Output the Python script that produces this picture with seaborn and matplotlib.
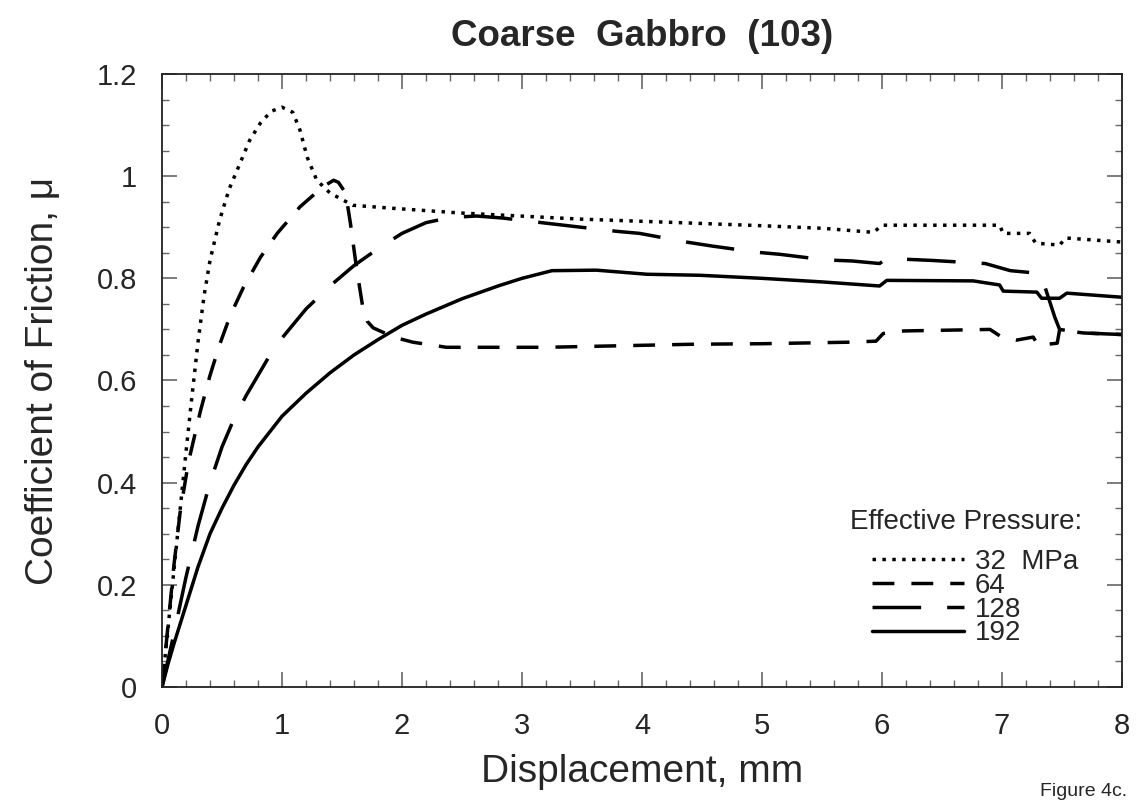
import numpy as np
import pandas as pd
import matplotlib
matplotlib.use("Agg")
import matplotlib.pyplot as plt
import seaborn as sns
from matplotlib.ticker import MultipleLocator, FuncFormatter

# ---- data ----
d32 = [0, 0.05, 0.10, 0.15, 0.20, 0.25, 0.30, 0.35, 0.40, 0.48, 0.56, 0.65, 0.73, 0.82,
       0.91, 1.0, 1.09, 1.15, 1.21, 1.29, 1.40, 1.59, 1.93, 2.48, 2.65, 3.48, 4.43, 5.0,
       5.5, 5.93, 6.0, 6.98, 7.01, 7.23, 7.28, 7.48, 7.53, 8.0]
mu32 = [0, 0.115, 0.23, 0.345, 0.46, 0.57, 0.675, 0.765, 0.835, 0.914, 0.975, 1.025, 1.07, 1.104,
        1.127, 1.135, 1.125, 1.09, 1.037, 0.992, 0.967, 0.943, 0.937, 0.928, 0.926, 0.916, 0.908, 0.903,
        0.898, 0.890, 0.904, 0.904, 0.888, 0.888, 0.869, 0.865, 0.879, 0.871]

d64 = [0, 0.05, 0.10, 0.15, 0.22, 0.32, 0.40, 0.48, 0.57, 0.68, 0.82, 0.96, 1.15, 1.34, 1.43,
       1.47, 1.53, 1.57, 1.62, 1.67, 1.71, 1.76, 1.93, 2.09, 2.37, 3.2, 4.43, 5.0, 5.73, 5.95,
       6.01, 6.18, 6.9, 7.01, 7.12, 7.26, 7.30, 7.46, 7.48, 7.68, 8.0]
mu64 = [0, 0.12, 0.24, 0.34, 0.44, 0.54, 0.61, 0.67, 0.728, 0.783, 0.841, 0.888, 0.94, 0.979, 0.992,
        0.988, 0.967, 0.908, 0.822, 0.748, 0.716, 0.703, 0.685, 0.675, 0.665, 0.665, 0.671, 0.672, 0.675, 0.677,
        0.692, 0.697, 0.70, 0.683, 0.679, 0.685, 0.669, 0.673, 0.699, 0.693, 0.69]

d128 = [0, 0.1, 0.2, 0.3, 0.4, 0.5, 0.6, 0.7, 0.8, 0.9, 1.0, 1.2, 1.4, 1.6, 1.8, 2.0, 2.2,
        2.4, 2.62, 2.84, 3.2, 3.42, 3.79, 3.98, 4.37, 4.59, 4.96, 5.15, 5.53, 5.75, 5.98,
        6.04, 6.42, 6.86, 7.07, 7.30, 7.34, 7.44, 7.48, 7.68, 8.0]
mu128 = [0, 0.105, 0.215, 0.315, 0.40, 0.47, 0.525, 0.57, 0.61, 0.65, 0.683, 0.74, 0.785, 0.825, 0.858,
         0.888, 0.909, 0.919, 0.922, 0.918, 0.908, 0.902, 0.892, 0.888, 0.871, 0.863, 0.851, 0.847, 0.836, 0.834,
         0.829, 0.839, 0.835, 0.829, 0.815, 0.81, 0.796, 0.724, 0.70, 0.693, 0.69]

d192 = [0, 0.05, 0.1, 0.2, 0.3, 0.4, 0.5, 0.6, 0.7, 0.8, 0.9, 1.0, 1.2, 1.4, 1.6, 1.8, 2.0,
        2.2, 2.5, 2.8, 3.0, 3.25, 3.62, 4.04, 4.48, 5.0, 5.5, 5.98, 6.04, 6.76, 6.98, 7.01,
        7.29, 7.33, 7.48, 7.54, 8.0]
mu192 = [0, 0.045, 0.085, 0.16, 0.235, 0.30, 0.35, 0.395, 0.435, 0.47, 0.50, 0.53, 0.575, 0.615, 0.65,
         0.68, 0.708, 0.73, 0.76, 0.785, 0.80, 0.815, 0.816, 0.808, 0.806, 0.800, 0.793, 0.785, 0.796, 0.795,
         0.787, 0.775, 0.773, 0.761, 0.761, 0.771, 0.763]

labels = ["32  MPa", "64", "128", "192"]

# ---- style ----
sns.set_style("ticks")
plt.rcParams["font.family"] = ["Liberation Sans", "DejaVu Sans"]

fig = plt.figure(figsize=(11.38, 8.01), dpi=100)
ax = fig.add_axes([162/1138, 1-687/801, (1122-162)/1138, (687-74)/801])

lw = 2.5
styles = [(0, (1.0, 1.85)), (0, (6.3, 4.9)), (0, (14, 7.5)), "-"]
series = [(d32, mu32), (d64, mu64), (d128, mu128), (d192, mu192)]
for (xs, ys), ls, lab in zip(series, styles, labels):
    sns.lineplot(x=xs, y=ys, ax=ax, color="black", lw=lw, linestyle=ls,
                 sort=False, estimator=None, label=lab)

ax.set_xlim(0, 8)
ax.set_ylim(0, 1.2)
ax.xaxis.set_major_locator(MultipleLocator(1))
ax.xaxis.set_minor_locator(MultipleLocator(0.2))
ax.yaxis.set_major_locator(MultipleLocator(0.2))
ax.yaxis.set_minor_locator(MultipleLocator(0.05))
ax.yaxis.set_major_formatter(FuncFormatter(lambda v, p: f"{v:g}"))
ax.xaxis.set_major_formatter(FuncFormatter(lambda v, p: f"{v:g}"))

ax.tick_params(which="both", direction="in", top=True, right=True, color="#666666")
ax.tick_params(which="major", length=11, width=1.2, labelsize=21, pad=18)
ax.tick_params(which="minor", length=5, width=1.0)
for s in ax.spines.values():
    s.set_color("#222222")
    s.set_linewidth(1.3)

ax.set_xlabel("Displacement, mm", fontsize=28, labelpad=10)
ax.set_ylabel("Coefficient of Friction, μ", fontsize=28, labelpad=26)
ax.set_title("Coarse  Gabbro  (103)", fontsize=26.5, fontweight="bold", pad=20)

handles = ax.get_lines()[:4]
ax.legend(handles=handles, labels=labels, loc="upper left",
          bbox_to_anchor=(872/1138, 1-549/801), bbox_transform=fig.transFigure,
          frameon=False, fontsize=20, handlelength=3.3, handletextpad=0.4,
          labelspacing=-0.08, borderpad=0, borderaxespad=0)
fig.text(850/1138, 1-522/801, "Effective Pressure:", fontsize=20, va="center", ha="left")
fig.text(1040/1138, 5/801, "Figure 4c.", fontsize=14, va="baseline", ha="left")

fig.savefig("out.png", dpi=100)
